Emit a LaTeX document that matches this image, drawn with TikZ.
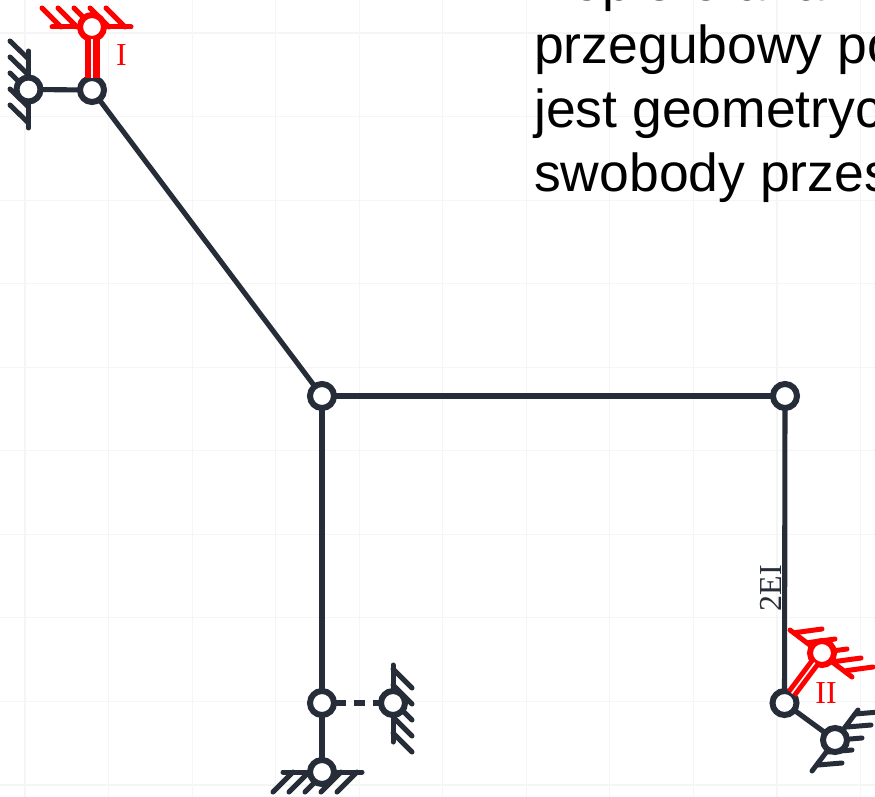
\documentclass[tikz,border=0pt]{standalone}
\usepackage{fontspec}
\setmainfont{Liberation Serif}
\newfontfamily\bodyfont{Liberation Sans}
\definecolor{steel}{HTML}{262D38}
\definecolor{gridc}{HTML}{F5F5F6}
\definecolor{redc}{HTML}{FF0000}
\tikzset{
  bar/.style={line width=5.1pt,color=steel},
  hatch/.style={line width=5pt,color=steel,line cap=round},
  redhatch/.style={line width=5pt,color=redc,line cap=round},
  hinge/.style={circle,draw=steel,fill=white,line width=6pt,minimum size=24pt,inner sep=0pt,outer sep=0pt},
  redhinge/.style={hinge,draw=redc},
  redlink/.style={color=redc,line width=6.5pt,double=white,double distance=2pt},
  body/.style={anchor=base west,inner sep=0pt,font=\bodyfont\fontsize{53.5}{60}\selectfont,text=black},
  lab/.style={inner sep=0pt,font=\fontsize{32}{32}\selectfont}
}
\begin{document}
\begin{tikzpicture}[x=1pt,y=-1pt]
\useasboundingbox (0,0) rectangle (875,797);
\clip (0,0) rectangle (875,797);
\fill[white] (0,0) rectangle (875,797);
% grid
\foreach \g in {0,...,10} \draw[gridc,line width=1.2pt] ({25+83.55*\g},0) -- ({25+83.55*\g},797);
\foreach \g in {0,...,9} \draw[gridc,line width=1.2pt] (0,{33+83.55*\g}) -- (875,{33+83.55*\g});
% text
\node[body] (t1) at (534,1) {Dopiero analiz};
\node[body] (t2) at (534,63.5) {przegubowy po};
\node[body] (t3) at (534,127.5) {jest geometryc};
\node[body] (t4) at (534,191) {swobody przes};
% supports: black
\draw[hatch] (28.5,51) -- (28.5,128);
\foreach \h in {59,75,91,107,123} \draw[hatch] (28.5,\h) -- (10,{\h-18});
\draw[hatch] (393,665) -- (393,742);
\foreach \h in {669,685,701,717,733} \draw[hatch] (393,\h) -- (412,{\h+19});
\draw[hatch] (283,772) -- (362,772);
\foreach \h in {293,309,325,341,357} \draw[hatch] (\h,772) -- ({\h-20},792);
\draw[hatch] (812,771) -- (858,710);
\foreach \a/\b in {818/765,828/752,838/740,847/727,855/714} \draw[hatch] (\a,\b) -- ({\a+24},{\b-2});
% supports: red
\draw[redhatch] (52,27) -- (131,27);
\foreach \h in {61,77,93,109,125} \draw[redhatch] (\h,27) -- ({\h-19},8);
\draw[redhatch] (790,630) -- (852,677);
\foreach \a/\b in {795.4/632.6,808.4/642.6,820.4/652.6,834.4/661.6,846.4/670.6} \draw[redhatch] (\a,\b) -- ({\a+26.6},{\b-3.6});
% hinges
\node[hinge] (n1) at (28.5,89.5) {};
\node[hinge] (n2) at (92,90) {};
\node[hinge] (n3) at (322,396) {};
\node[hinge] (n4) at (785,396) {};
\node[hinge] (n5) at (322,703) {};
\node[hinge] (n6) at (393,703) {};
\node[hinge] (n7) at (322,772) {};
\node[hinge] (n8) at (784.5,703) {};
\node[hinge] (n9) at (835,740) {};
\node[redhinge] (r1) at (92,27) {};
\node[redhinge] (r2) at (822,653) {};
% connectors
\draw[bar] (n1) -- (n2);
\draw[bar] (n2) -- (n3);
\draw[bar] (n3) -- (n4);
\draw[color=steel,line width=6.2pt] (476,396) -- (631,396);
\draw[bar] (n3) -- (n5);
\draw[bar] (n5) -- (n7);
\draw[bar] (n4) -- (n8);
\draw[bar,dash pattern=on 11pt off 8pt,dash phase=-1pt] (n5) -- (n6);
\draw[bar] (n8) -- (n9);
\draw[redlink] (n2) -- (r1);
\draw[redlink,line width=5pt,double distance=1.6pt] (n8) -- (r2);
% labels
\node[lab,text=redc] (li) at (121.5,55) {I};
\node[lab,text=redc] (lii) at (826,693) {II};
\node[lab,text=steel,rotate=90] (lei) at (771,588) {2EI};
\end{tikzpicture}
\end{document}
